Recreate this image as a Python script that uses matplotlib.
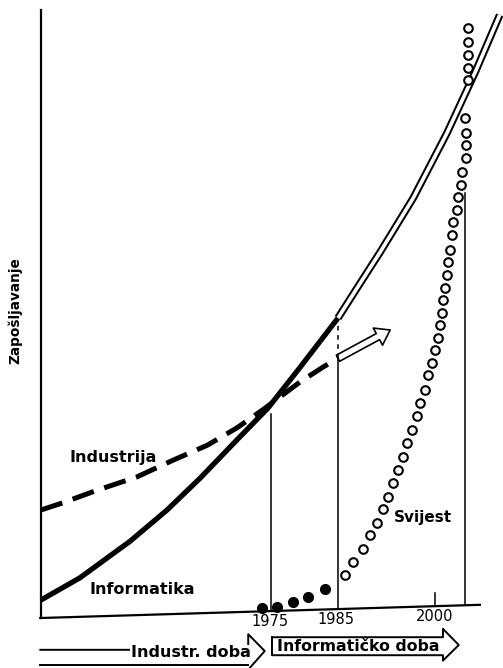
import numpy as np
import matplotlib.pyplot as plt
from matplotlib.patches import FancyArrowPatch

# Informatika: puna linija do 1985, dalje dvostruka (projekcija)
info_years = [1940.3, 1946.2, 1953.8, 1959.4, 1964.4, 1970.0, 1974.7, 1979.5, 1985.3]
info_vals = [2.0, 5.7, 11.8, 17.0, 22.3, 28.7, 34.0, 40.7, 49.0]
info_proj_years = [1985.3, 1988.6, 1991.7, 1996.7, 2001.8, 2006.1, 2009.8]
info_proj_vals = [49.0, 54.7, 60.0, 69.0, 79.8, 90.0, 99.5]

# Industrija: isprekidana linija, na kraju prazna strelica
ind_years = [1940.3, 1943.6, 1948.8, 1954.8, 1960.3, 1965.5, 1970.0, 1973.9, 1979.5, 1983.0, 1985.3]
ind_vals = [17.0, 18.2, 20.3, 22.5, 25.3, 27.8, 30.7, 33.7, 38.3, 40.8, 42.3]
ind_arrow_end = (1993.2, 47.0)

# Svijest: puni kruzici (do 1985) i prazni kruzici (nakon 1985)
sv_fill_years = [1973.8, 1976.1, 1978.5, 1980.8, 1983.3]
sv_fill_vals = [0.7, 0.8, 1.7, 2.5, 3.8]
sv_years = [1986.4, 1987.6, 1989.1, 1990.2, 1991.2, 1992.1, 1992.9, 1993.6, 1994.4,
            1995.2, 1995.8, 1996.5, 1997.3, 1997.7, 1998.5, 1998.9, 1999.5, 2000.0,
            2000.5, 2000.8, 2001.1, 2001.2, 2001.5, 2001.8, 2002.0, 2002.3, 2002.6,
            2002.7, 2003.3, 2003.5, 2003.9, 2004.1, 2004.7, 2004.7, 2004.7, 2004.5,
            2005.0, 2005.0, 2005.0, 2005.0, 2005.0]
sv_vals = [6.2, 8.3, 10.5, 12.8, 14.8, 17.2, 19.2, 21.5, 23.7,
           25.8, 28.2, 30.3, 32.7, 34.8, 37.0, 39.5, 41.5, 43.7,
           45.7, 47.8, 49.8, 52.0, 54.0, 56.2, 58.3, 60.3, 62.8,
           65.0, 67.0, 69.2, 71.2, 73.3, 75.7, 77.8, 79.8, 82.3,
           88.7, 90.7, 92.8, 95.0, 97.3]

# oznake godina
tick_years = [1975, 1985, 2000]
tick_labels = ['1975', '1985', '2000']
tick_label_vals = [-1.5, -1.3, -0.7]

# vertikalne linije (godina, vrh)
vlines_x = [1975.2, 1985.3, 2004.5]
vlines_top = [33.0, 42.3, 69.8]
vlines_bottom = [0.1, 0.5, 1.1]

# osi (skenirana slika je malo nagnuta)
axis_left_x = 1940.3
axis_bottom_x = [1940.2, 2006.8]
axis_bottom_y = [-1.0, 1.2]

# razdoblja
era_names = ['Industr. doba', 'Informatičko doba']
era_start = [1940.2, 1975.3]
era_tip = [1974.2, 2003.6]

fig = plt.figure(figsize=(5.03, 6.68), dpi=100)
ax = fig.add_axes([0, 0, 1, 1])
ax.set_xlim(1934.09, 2010.30)
ax.set_ylim(-9.33, 102)
ax.axis('off')

# osi
ax.plot([axis_left_x, axis_left_x], [-1.0, 100.3], color='black', lw=1.6)
ax.plot(axis_bottom_x, axis_bottom_y, color='black', lw=1.6)

# vertikale
for x, top, bot in zip(vlines_x, vlines_top, vlines_bottom):
    ax.plot([x, x], [bot, top], color='black', lw=1.1)
ax.plot([vlines_x[1], vlines_x[1]], [vlines_top[1], info_vals[-1]], color='black',
        lw=1.1, linestyle=(0, (3, 3)))
ax.plot([2000, 2000], [0.98, 3.2], color='black', lw=1.1)

# Informatika
ax.plot(info_years, info_vals, color='black', lw=3.8, solid_capstyle='butt',
        solid_joinstyle='round')
ax.plot(info_proj_years, info_proj_vals, color='black', lw=5.5, solid_capstyle='butt',
        solid_joinstyle='round')
ax.plot(info_proj_years, info_proj_vals, color='white', lw=2.6, solid_capstyle='butt',
        solid_joinstyle='round')

# Industrija
ax.plot(ind_years, ind_vals, color='black', lw=3.6, linestyle=(0, (4.5, 2.2)))
arr = FancyArrowPatch((ind_years[-1], ind_vals[-1]), ind_arrow_end,
                      arrowstyle='simple,head_length=1.0,head_width=1.4,tail_width=0.5',
                      mutation_scale=10, fc='white', ec='black', lw=1.2,
                      shrinkA=0, shrinkB=0)
ax.add_patch(arr)

# Svijest
ax.plot(sv_fill_years, sv_fill_vals, 'o', color='black', ms=7)
ax.plot(sv_years, sv_vals, 'o', mfc='white', mec='black', mew=1.5, ms=6.2)

# tekstovi
ax.text(1936.4, 50.3, 'Zapošljavanje', rotation=90, fontsize=9.8, fontweight='bold',
        ha='center', va='center')
ax.text(1951.2, 25.7, 'Industrija', fontsize=11.5, fontweight='bold', ha='center', va='center')
ax.text(1955.6, 3.8, 'Informatika', fontsize=11.5, fontweight='bold', ha='center', va='center')
ax.text(1998.2, 15.8, 'Svijest', fontsize=11, fontweight='bold', ha='center', va='center')
for yr, lab, v in zip(tick_years, tick_labels, tick_label_vals):
    ax.text(yr, v, lab, fontsize=10.5, ha='center', va='center')

# strelice razdoblja
hb0 = era_tip[0] - 2.5
ax.plot([era_start[0], hb0, hb0, era_tip[0], hb0],
        [-6.3, -6.3, -3.7, -6.5, -9.6], color='black', lw=1.4)
ax.plot([era_start[0], hb0], [-8.8, -8.8], color='black', lw=1.4)
hb1 = era_tip[1] - 2.4
ax.plot([era_start[1], hb1, hb1, era_tip[1], hb1, hb1, era_start[1], era_start[1]],
        [-4.2, -4.2, -2.8, -5.5, -8.1, -7.2, -7.2, -4.2], color='black', lw=1.4)
ax.text(1963.0, -6.8, era_names[0], fontsize=11.5, fontweight='bold', ha='center',
        va='center', bbox=dict(fc='white', ec='none', pad=0.5))
ax.text(1988.3, -5.8, era_names[1], fontsize=11.3, fontweight='bold', ha='center', va='center')

fig.savefig('out.png', dpi=100)
